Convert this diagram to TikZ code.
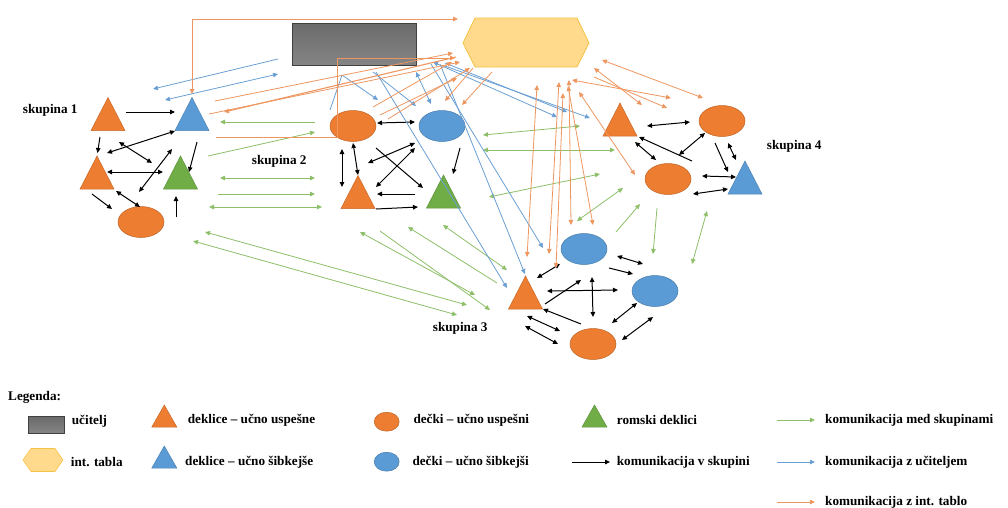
\documentclass[tikz,border=0pt]{standalone}
\usepackage{fontspec}
\setmainfont{Liberation Serif}
\usetikzlibrary{arrows.meta,shapes.geometric}
\definecolor{cor}{HTML}{ED7D31}
\definecolor{cbl}{HTML}{5B9BD5}
\definecolor{cgr}{HTML}{70AD47}
\definecolor{lorange}{HTML}{EE9660}
\definecolor{lblue}{HTML}{6A9FD3}
\definecolor{lgreen}{HTML}{8CBF68}
\definecolor{hexf}{HTML}{FFD98C}
\definecolor{hexd}{HTML}{F5C343}
\begin{document}
\begin{tikzpicture}[x=1pt,y=-1pt,
  ar/.style={-{Triangle[length=5pt,width=4.5pt]}},
  dar/.style={{Triangle[length=5pt,width=4.5pt]}-{Triangle[length=5pt,width=4.5pt]}},
  blk/.style={black, line width=1pt},
  grn/.style={lgreen, line width=0.8pt},
  blu/.style={lblue, line width=0.8pt},
  org/.style={lorange, line width=0.8pt},
  teach/.style={draw=black!75, line width=0.6pt, top color=black!58, middle color=black!35, bottom color=black!48, inner sep=0pt},
  ell/.style={ellipse, draw=#1!80!black, fill=#1, line width=0.5pt, minimum width=46pt, minimum height=31pt, inner sep=0pt},
  sell/.style={ellipse, draw=#1!80!black, fill=#1, line width=0.5pt, minimum width=25pt, minimum height=19pt, inner sep=0pt},
  txt/.style={font=\fontsize{13.2}{15}\selectfont\bfseries, inner sep=0pt, anchor=west},
  pics/tri/.style={code={\filldraw[fill=#1, draw=#1!85!black, line width=0.5pt] (0,-16.5) -- (17,16.5) -- (-17,16.5) -- cycle;}},
  pics/stri/.style={code={\filldraw[fill=#1, draw=#1!85!black, line width=0.5pt] (0,-11) -- (12.5,11) -- (-12.5,11) -- cycle;}},
]
\useasboundingbox (0,0) rectangle (1008,507);

% teacher and board
\node[teach, minimum width=124pt, minimum height=42pt] (teacher) at (354,44) {};
\filldraw[fill=hexf, draw=hexd, line width=0.8pt] (463,43) -- (475,18) -- (577,18) -- (589,43) -- (577,67) -- (475,67) -- cycle;
\coordinate (board) at (526,43);

% group 1
\path (108,114) pic (t1a) {tri=cor};
\path (192,114) pic (t1b) {tri=cbl};
\path (97,172.5) pic (t1c) {tri=cor};
\path (180.5,172.5) pic (t1d) {tri=cgr};
\node[ell=cor] (e1) at (141,222) {};
% group 2
\node[ell=cor] (e2a) at (353,126) {};
\node[ell=cbl] (e2b) at (442,126) {};
\path (358,192) pic (t2a) {tri=cor};
\path (443.5,191.5) pic (t2b) {tri=cgr};
% group 4
\path (620,119.5) pic (t4a) {tri=cor};
\node[ell=cor] (e4a) at (722,121) {};
\node[ell=cor] (e4b) at (668,179) {};
\path (745,177.5) pic (t4b) {tri=cbl};
% group 3
\node[ell=cbl] (e3a) at (584,249) {};
\node[ell=cbl] (e3b) at (655,291) {};
\node[ell=cor] (e3c) at (593,344) {};
\path (525.5,292.5) pic (t3a) {tri=cor};

% labels
\node[txt] (s1) at (22.7,110) {skupina 1};
\node[txt] (s2) at (251.7,161) {skupina 2};
\node[txt] (s3) at (432.7,328) {skupina 3};
\node[txt] (s4) at (766.7,146) {skupina 4};

% black arrows group 1
\draw[blk,ar] (126,112) -- (175,112);
\draw[blk,ar] (100,137) -- (97.5,153);
\draw[blk,dar] (175,131) -- (107,153);
\draw[blk,dar] (119,142) -- (152,163);
\draw[blk,dar] (107,172) -- (163,172);
\draw[blk,dar] (172,149) -- (139,192);
\draw[blk,ar] (197,142) -- (189,172);
\draw[blk,ar] (92,194) -- (112,209);
\draw[blk,dar] (116,191) -- (140,207);
\draw[blk,ar] (176,217) -- (176,196);
% black arrows group 2
\draw[blk,dar] (377,123) -- (415,122);
\draw[blk,dar] (342,149) -- (342,187);
\draw[blk,dar] (353,143) -- (358,175);
\draw[blk,dar] (368,163) -- (415,143);
\draw[blk,dar] (376,187) -- (415,148);
\draw[blk,ar] (376,148) -- (423,188);
\draw[blk,ar] (415,194) -- (377,194);
\draw[blk,ar] (376,209) -- (418,207);
\draw[blk,ar] (460,148) -- (453,174);
% black arrows group 4
\draw[blk,dar] (647,126) -- (690,122);
\draw[blk,dar] (635,142) -- (656,160);
\draw[blk,ar] (692,161) -- (639,137);
\draw[blk,dar] (679,155) -- (705,133);
\draw[blk,ar] (715,143) -- (728,172);
\draw[blk,dar] (728,143) -- (736,160);
\draw[blk,dar] (702,176) -- (736,177);
\draw[blk,dar] (693,194) -- (728,189);
% black arrows group 3
\draw[blk,dar] (537,278) -- (560,264);
\draw[blk,dar] (617,256) -- (643,264);
\draw[blk,ar] (609,268) -- (633,274);
\draw[blk,dar] (547,291) -- (618,290);
\draw[blk,ar] (545,304) -- (581,280);
\draw[blk,dar] (592,277) -- (593,317);
\draw[blk,ar] (581,324) -- (543,309);
\draw[blk,dar] (527,316) -- (560,331);
\draw[blk,dar] (525,326) -- (558,344);
\draw[blk,dar] (612,323) -- (637,303);
\draw[blk,dar] (622,340) -- (653,317);

% green arrows
\draw[grn,ar] (315,122) -- (220,122);
\draw[grn,ar] (208,156) -- (315,132);
\draw[grn,dar] (220,178) -- (315,178);
\draw[grn,ar] (218,194) -- (315,194);
\draw[grn,dar] (209,207) -- (322,207);
\draw[grn,dar] (205,232) -- (467,305);
\draw[grn,dar] (193,241) -- (457,315);
\draw[grn,dar] (360,232) -- (475,295);
\draw[grn,ar] (380,231) -- (490,310);
\draw[grn,ar] (497,283) -- (408,227);
\draw[grn,dar] (443,225) -- (507,270);
\draw[grn,dar] (483,135) -- (580,126);
\draw[grn,dar] (483,150) -- (615,150);
\draw[grn,dar] (489,197) -- (600,174);
\draw[grn,dar] (577,221) -- (623,188);
\draw[grn,ar] (616,232) -- (640,204);
\draw[grn,ar] (657,208) -- (653,254);
\draw[grn,dar] (707,211) -- (692,264);

% blue arrows
\draw[blu,ar] (278,59) -- (153,89);
\draw[blu,dar] (165,100) -- (278,74);
\draw[blu] (330,110) -- (342,75);
\draw[blu,ar] (342,75) -- (378,100);
\draw[blu,ar] (373,72) -- (416,106);
\draw[blu,dar] (416,72) -- (431,104);
\draw[blu,ar] (376,72) -- (507,288);
\draw[blu,ar] (431,64) -- (543,248);
\draw[blu,ar] (440,64) -- (525,274);
\draw[blu,dar] (433,62) -- (557,117);
\draw[blu,ar] (445,63) -- (567,112);
\draw[blu,ar] (445,66) -- (590,118);

% orange arrows
\draw[org,dar] (192,94) -- (192,19) -- (458,19);
\draw[org,ar] (216,137.5) -- (337,137.5) -- (337,58) -- (455,58);
\draw[org,ar] (215,101) -- (453,53);
\draw[org,ar] (209,114) -- (460,62);
\draw[org,ar,line width=1.1pt] (456,57) -- (224,112);
\draw[org,ar] (373,107) -- (452,62);
\draw[org,ar] (380,115) -- (457,78);
\draw[org,ar] (388,119) -- (470,68);
\draw[org,ar] (473,68) -- (445,101);
\draw[org,ar] (492,72) -- (462,105);
\draw[org,dar] (537,85) -- (527,257);
\draw[org,dar] (559,82) -- (549,254);
\draw[org,dar] (563,93) -- (556,268);
\draw[org,dar] (569,80) -- (571,225);
\draw[org,dar] (568,86) -- (593,225);
\draw[org,dar] (579,92) -- (635,175);
\draw[org,dar] (602,60) -- (703,98);
\draw[org,dar] (594,68) -- (642,105);
\draw[org,ar] (594,77) -- (667,108);
\draw[org,dar] (572,80) -- (671,98);

% legend
\node[txt] (leg) at (8,397) {Legenda:};
\node[teach, minimum width=36pt, minimum height=17pt] (lt) at (46,425) {};
\node[txt] (ltt) at (71.7,421) {učitelj};
\filldraw[fill=hexf, draw=hexd, line width=0.6pt] (23,460) -- (31,448.5) -- (55,448.5) -- (63,460) -- (55,471.5) -- (31,471.5) -- cycle;
\node[txt] (lht) at (70.7,462) {int. tabla};
\path (164.3,416) pic (lto) {stri=cor};
\node[txt] (ltot) at (187.7,420) {deklice -- učno uspešne};
\path (164.3,457) pic (ltb) {stri=cbl};
\node[txt] (ltbt) at (185,462) {deklice -- učno šibkejše};
\node[sell=cor] (leo) at (386.7,421.7) {};
\node[txt] (leot) at (413.3,420) {dečki -- učno uspešni};
\node[sell=cbl] (leb) at (386.7,461.7) {};
\node[txt] (lebt) at (412.3,462) {dečki -- učno šibkejši};
\path (594.5,416) pic (ltg) {stri=cgr};
\node[txt] (ltgt) at (616.7,420) {romski deklici};
\coordinate (lka) at (571.7,462);
\coordinate (lkb) at (610,462);
\draw[blk,ar,line width=0.9pt] (lka) -- (lkb);
\node[txt] (lkt) at (616.7,462) {komunikacija v skupini};
\coordinate (lga) at (776.7,420);
\coordinate (lgb) at (815,420);
\draw[grn,ar] (lga) -- (lgb);
\node[txt] (lgt) at (825,420) {komunikacija med skupinami};
\coordinate (lba) at (776.7,462);
\coordinate (lbb) at (815,462);
\draw[blu,ar] (lba) -- (lbb);
\node[txt] (lbt) at (825,462) {komunikacija z učiteljem};
\coordinate (loa) at (776.7,502);
\coordinate (lob) at (815,502);
\draw[org,ar] (loa) -- (lob);
\node[txt] (lot) at (825,502) {komunikacija z int. tablo};
\end{tikzpicture}
\end{document}
